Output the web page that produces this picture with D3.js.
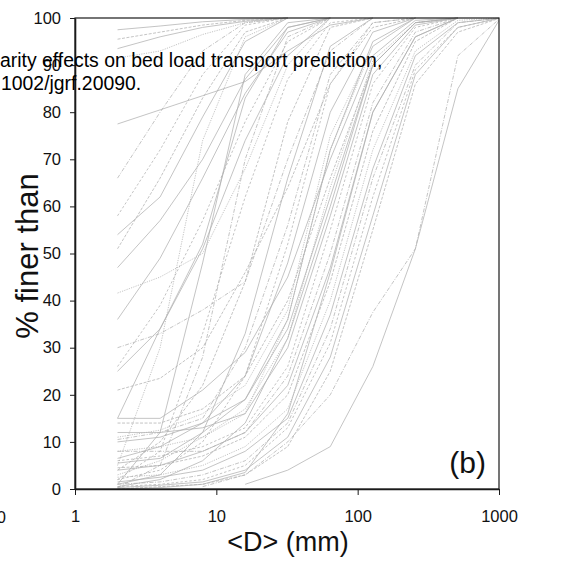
<!DOCTYPE html>
<html>
<head>
<meta charset="utf-8">
<script src="https://cdn.jsdelivr.net/npm/d3@7"></script>
<style>
  html, body { margin: 0; padding: 0; background: #fff; }
  svg { display: block; }
  text { font-family: "Liberation Sans", Arial, Helvetica, sans-serif; }
</style>
</head>
<body>
<svg id="chart" width="573" height="566"></svg>
<script>
// ---- data ----
const sizes = [2, 4, 8, 16, 32, 64, 128, 256, 512, 1024];   // sieve sizes (mm)
const xTicks = [1, 10, 100, 1000];
const yTicks = [0, 10, 20, 30, 40, 50, 60, 70, 80, 90, 100];
const xLabel = "<D> (mm)";
const yLabel = "% finer than";
const panelLabel = "(b)";
const citation = ["arity effects on bed load transport prediction,", "1002/jgrf.20090."];

// % finer than, one array per grain-size curve (null = not measured)
const fine1  = [97.5, 98.3, 99.2, 99.7, 100];
const fine2  = [95.5, 97, 98.5, 99.5, 100];
const fine3  = [93.5, 96, 98, 99.3, 100];
const fine4  = [91.5, 93, 96.5, 99, 100];
const fine5  = [77.5, 80.5, 83.5, 86.5, 93, 98.5, 100];
const fine6  = [66, 80, 93, 99, 100];
const fine7  = [58, 72, 88, 98.5, 100];
const fine8  = [54, 62, 79, 95, 100];
const fine9  = [51, 66, 83, 97, 100];
const fine10 = [47, 57, 70, 87, 98, 100];
const fine11 = [41.6, 45, 50, 68, 90, 100];
const fine12 = [36, 49, 66, 84, 97, 100];
const fine13 = [30, 33, 38, 44, 70, 93, 100];
const fine14 = [26, 39, 57, 78, 95, 100];
const fine15 = [25, 34, 51, 74, 92, 100];
const fine16 = [21, 23.5, 30, 46, 64, 86, 98, 100];
const fine17 = [15, 34, 52, 83, 98, 100];
const fine18 = [5, 30, 74, 96, 100];
const fine19 = [1, 12, 48, 88, 99, 100];
const fine20 = [0.3, 5, 28, 70, 96, 100];
const fine21 = [2, 8, 33, 62, 87, 99, 100];
const coarse1  = [15, 15, 21, 29, 45, 70, 92, 99.5, 100];
const coarse2  = [14, 14, 17, 24, 40, 66, 90, 99, 100];
const coarse3  = [12, 12, 13, 16, 30, 58, 88, 98.5, 100];
const coarse4  = [11, 12.5, 16, 22, 38, 75, 94, 100];
const coarse5  = [10, 11, 14, 19, 34, 62, 90, 99, 100];
const coarse6  = [8, 8, 8, 12, 24, 50, 82, 97, 100];
const coarse7  = [6, 7, 9, 13, 26, 55, 86, 98, 100];
const coarse8  = [5.5, 6.5, 12, 19, 36, 72, 95, 100];
const coarse9  = [4.5, 5, 7, 11, 20, 44, 76, 95, 100];
const coarse10 = [4, 5, 8, 12, 22, 47, 80, 96, 100];
const coarse11 = [2.5, 3, 5, 9, 17, 40, 72, 93, 99.5, 100];
const coarse12 = [1.5, 2.5, 4, 8, 15, 37, 68, 92, 99, 100];
const coarse13 = [1, 1.5, 3, 6, 14, 34, 66, 90, 99, 100];
const coarse14 = [0.5, 1, 2, 5, 13, 31, 62, 89, 98, 100];
const coarse15 = [0.3, 0.8, 1.5, 4, 11, 28, 58, 88, 98, 100];
const coarse16 = [0, 0.5, 1, 3, 9, 25, 55, 86, 97, 100];
const coarse17 = [0, 0.3, 1, 3.5, 16, 46, 80, 96, 100];
const coarse18 = [3, 6, 11, 17, 32, 64, 91, 99, 100];
const coarse19 = [6.5, 9, 14, 24, 48, 80, 97, 100];
const coarse20 = [10.5, 12, 15, 30, 56, 88, 99, 100];
const coarse21 = [2, 4, 10, 24, 52, 86, 99, 100];
const coarse22 = [1, 3, 12, 33, 66, 94, 100];
const coarse23 = [4, 10, 22, 44, 78, 98, 100];
const coarse24 = [0.5, 2, 6, 14, 32, 60, 90, 99, 100];
const coarse25 = [8, 9, 11, 16, 36, 72, 94, 100];
const veryCoarse1 = [null, null, null, 1, 4, 9, 26, 51, 85, 100];
const veryCoarse2 = [null, null, 0.5, 3, 10, 20, 37.5, 51, 92, 100];

const curves = [fine1, fine2, fine3, fine4, fine5, fine6, fine7, fine8, fine9, fine10,
  fine11, fine12, fine13, fine14, fine15, fine16, fine17, fine18, fine19, fine20, fine21,
  coarse1, coarse2, coarse3, coarse4, coarse5, coarse6, coarse7, coarse8, coarse9, coarse10,
  coarse11, coarse12, coarse13, coarse14, coarse15, coarse16, coarse17, coarse18, coarse19,
  coarse20, coarse21, coarse22, coarse23, coarse24, coarse25, veryCoarse1, veryCoarse2];

// ---- drawing ----
const svg = d3.select("#chart");
const L = 75, R = 499, T = 18, B = 489;
const x = d3.scaleLog().domain([1, 1000]).range([L, R]);
const y = d3.scaleLinear().domain([0, 100]).range([B, T]);

svg.append("defs").append("clipPath").attr("id", "plotclip")
  .append("rect").attr("x", L).attr("y", T - 1).attr("width", R - L).attr("height", B - T + 1);

const dashes = [null, "3,1.5", null, "1.2,1.2", null, "4,1.5,1,1.5", "2.5,2"];
const line = d3.line()
  .defined(d => d.v != null)
  .x(d => x(d.s))
  .y(d => y(d.v));

const g = svg.append("g").attr("clip-path", "url(#plotclip)");
curves.forEach((c, i) => {
  const pts = c.map((v, k) => ({ s: sizes[k], v: v }));
  g.append("path")
    .datum(pts)
    .attr("d", line)
    .attr("fill", "none")
    .attr("stroke", "#b0b0b0")
    .attr("stroke-width", 0.75)
    .attr("stroke-dasharray", dashes[i % dashes.length]);
});

// frame
svg.append("rect").attr("x", L).attr("y", T).attr("width", R - L).attr("height", B - T)
  .attr("fill", "none").attr("stroke", "#1a1a1a").attr("stroke-width", 1.2);

// axes
const xAxis = d3.axisBottom(x).tickValues(xTicks).tickFormat(d3.format("d")).tickSize(6).tickSizeOuter(0);
const gx = svg.append("g").attr("transform", `translate(0,${B})`).call(xAxis);
gx.select(".domain").attr("stroke", "#1a1a1a").attr("stroke-width", 1.6);
gx.selectAll(".tick line").attr("stroke", "#1a1a1a").attr("stroke-width", 1);
gx.selectAll(".tick text").attr("y", 21).attr("font-size", 16.5).attr("fill", "#111")
  .style("font-family", "'Liberation Sans', Arial, sans-serif");

const yAxis = d3.axisLeft(y).tickValues(yTicks).tickSize(5).tickSizeOuter(0);
const gy = svg.append("g").attr("transform", `translate(${L},0)`).call(yAxis);
gy.select(".domain").attr("stroke", "#1a1a1a").attr("stroke-width", 1.6);
gy.selectAll(".tick line").attr("stroke", "#1a1a1a").attr("stroke-width", 1);
gy.selectAll(".tick text").attr("x", -14).attr("font-size", 16.5).attr("fill", "#111")
  .style("font-family", "'Liberation Sans', Arial, sans-serif");

// leftover label from the neighbouring panel
svg.append("text").attr("x", 6).attr("y", 523).attr("text-anchor", "end")
  .attr("font-size", 16.5).attr("fill", "#111").text("1000");

// axis titles
svg.append("text").attr("x", 288).attr("y", 551).attr("text-anchor", "middle")
  .attr("font-size", 27).attr("fill", "#111").text(xLabel);
svg.append("text").attr("transform", `translate(38,256) rotate(-90)`)
  .attr("text-anchor", "middle").attr("font-size", 31).attr("fill", "#111").text(yLabel);

// panel label
svg.append("text").attr("x", 486).attr("y", 473).attr("text-anchor", "end")
  .attr("font-size", 30).attr("fill", "#111").text(panelLabel);

// citation overlay
svg.append("text").attr("x", 0).attr("y", 67).attr("font-size", 19.4).attr("fill", "#000").text(citation[0]);
svg.append("text").attr("x", 1).attr("y", 90).attr("font-size", 19.4).attr("fill", "#000").text(citation[1]);
</script>
</body>
</html>
